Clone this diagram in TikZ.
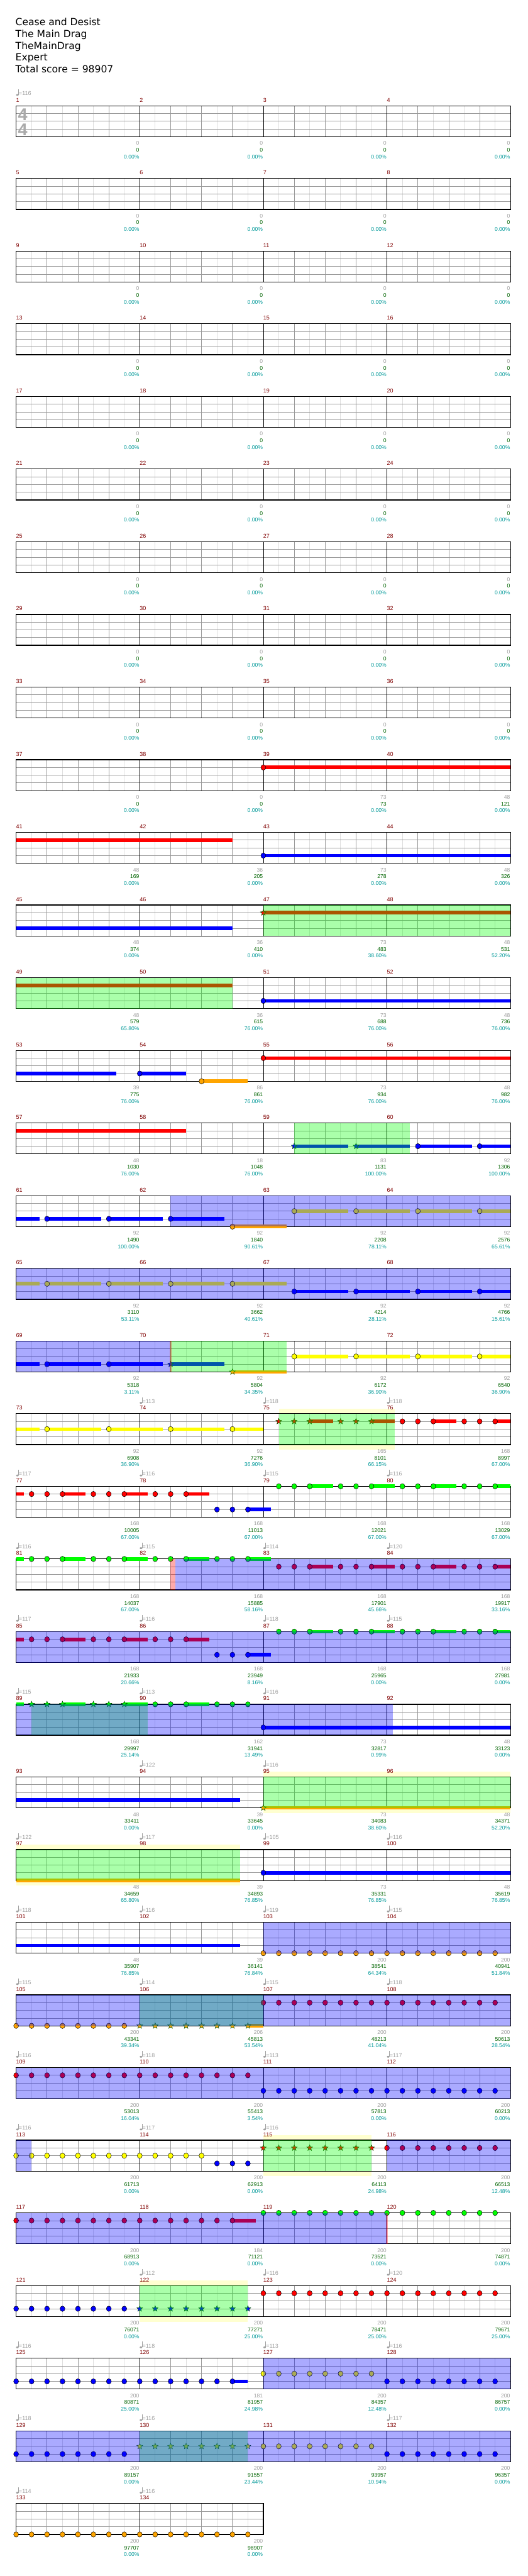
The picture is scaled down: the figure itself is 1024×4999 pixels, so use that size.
\documentclass[tikz,border=0pt]{standalone}
\usepackage{fontspec}
\setmainfont{DejaVu Sans}
\newfontfamily\labfont{Liberation Sans}
\usetikzlibrary{shapes.geometric}
\definecolor{lane0}{RGB}{0,255,0}
\definecolor{lane1}{RGB}{255,0,0}
\definecolor{lane2}{RGB}{255,255,0}
\definecolor{lane3}{RGB}{0,0,255}
\definecolor{lane4}{RGB}{255,165,0}
\definecolor{mnum}{RGB}{128,0,0}
\definecolor{lgray}{RGB}{160,160,160}
\definecolor{lgreen}{RGB}{0,100,0}
\definecolor{lteal}{RGB}{0,153,153}
\definecolor{gridlight}{RGB}{222,222,222}
\definecolor{gridmid}{RGB}{153,153,153}
\definecolor{paleyel}{RGB}{255,255,208}
\definecolor{stargreen}{RGB}{0,80,0}
\definecolor{tsgray}{RGB}{170,170,170}
\tikzset{
  lab/.style={font=\labfont\fontsize{10.5}{12}\selectfont, inner sep=0pt, outer sep=0pt},
  mlab/.style={font=\labfont\fontsize{11}{13}\selectfont, text=mnum, inner sep=0pt, outer sep=0pt},
  tlab/.style={font=\labfont\fontsize{11}{13}\selectfont, text=lgray, inner sep=0pt, outer sep=0pt},
  starnote/.style={star, star points=5, star point ratio=2.3, minimum size=12pt, inner sep=0pt, draw=stargreen, line width=0.6pt},
  head/.style={font=\fontsize{19}{23}\selectfont, anchor=base west, inner sep=0pt}
}
\newcommand\rowT[1]{\pgfmathsetmacro\rT{205.3+141*(#1)}}
\newcommand\Staff[3]{\rowT{#1}\pgfmathsetmacro\rR{31.3+240*(#2)}\pgfmathtruncatemacro\myN{8*(#2)-1}%
  \fill[white] (31.3,\rT) rectangle (\rR,{\rT+60});
  \foreach \kk in {1,...,\myN}{\draw[gridlight,line width=1pt] ({31.3+30*\kk},\rT) -- ({31.3+30*\kk},{\rT+60});}
  \foreach \kk in {2,4,...,\myN}{\draw[gridmid,line width=1pt] ({31.3+30*\kk},\rT) -- ({31.3+30*\kk},{\rT+60});}
  \foreach \li in {1,2,3}{\draw[gridmid,line width=1pt] (31.3,{\rT+15*\li}) -- (\rR,{\rT+15*\li});}
  \foreach \kk in {#3}{\draw[black,line width=1pt] ({31.3+30*\kk},\rT) -- ({31.3+30*\kk},{\rT+60});}
  \draw[black,line width=1.5pt] (31.3,\rT) rectangle (\rR,{\rT+60});}
\newcommand\Nt[3]{\rowT{#1}\filldraw[fill=lane#2,draw=black,line width=0.6pt] ({31.3+30*(#3)},{\rT+15*#2}) ellipse[x radius=4.8pt,y radius=5.2pt];}
\newcommand\Su[4]{\rowT{#1}\fill[lane#2] ({31.3+30*(#3)},{\rT+15*#2-3.5}) rectangle ({31.3+30*(#4)},{\rT+15*#2+3.5});}
\newcommand\St[3]{\rowT{#1}\node[starnote,fill=lane#2] at ({31.3+30*(#3)},{\rT+15*#2}) {};}
\newcommand\Ns[3]{\foreach \ee in {#3}{\Nt{#1}{#2}{\ee}}}
\newcommand\Ss[3]{\foreach \ee in {#3}{\St{#1}{#2}{\ee}}}
\newcommand\Nsus[4]{\foreach \ee in {#3}{\Su{#1}{#2}{\ee}{\ee+#4}\Nt{#1}{#2}{\ee}}}
\newcommand\Ov[4]{\rowT{#2}\fill[#1,fill opacity=0.3333] ({31.3+30*(#3)},\rT) rectangle ({31.3+30*(#4)},{\rT+60});}
\newcommand\Grn[3]{\Ov{lane0}{#1}{#2}{#3}}
\newcommand\Blu[3]{\Ov{lane3}{#1}{#2}{#3}}
\newcommand\Rd[3]{\Ov{lane1}{#1}{#2}{#3}}
\newcommand\Yel[3]{\rowT{#1}\fill[paleyel] ({31.3+30*(#2)},{\rT-10}) rectangle ({31.3+30*(#3)},{\rT+70});}
\newcommand\Labs[2]{\rowT{#1}\foreach \ga/\gb/\gc [count=\cc from 1] in {#2}{%
  \node[lab,text=lgray,anchor=base east] at ({31.3+240*\cc-1},{\rT+76.4}) {\ga};
  \node[lab,text=lgreen,anchor=base east] at ({31.3+240*\cc-1},{\rT+89.4}) {\gb};
  \node[lab,text=lteal,anchor=base east] at ({31.3+240*\cc-1},{\rT+102.4}) {\gc\%};}}
\newcommand\Tmp[3]{\rowT{#1}\pgfmathsetmacro\xx{31.3+240*(#2)}%
  \fill[lgray] ({\xx+2.4},{\rT-21}) ellipse[x radius=2.5pt,y radius=1.8pt];
  \draw[lgray,line width=0.8pt] ({\xx+4.5},{\rT-21}) -- ({\xx+4.5},{\rT-32});
  \node[tlab,anchor=base west] at ({\xx+5.3},{\rT-20}) {=#3};}
\newcommand\Pat[1]{%
  \Su{#1}{1}{0}{0.5}\Su{#1}{1}{3}{4.5}\Su{#1}{1}{7}{8.5}\Su{#1}{1}{11}{12.5}\Ns{#1}{1}{1,2,3,5,6,7,9,10,11}
  \Su{#1}{3}{15}{16.5}\Ns{#1}{3}{13,14,15}
  \Su{#1}{0}{19}{20.5}\Su{#1}{0}{23}{24.5}\Su{#1}{0}{27}{28.5}\Su{#1}{0}{31}{32}\Ns{#1}{0}{17,18,19,21,22,23,25,26,27,29,30,31}}
\begin{document}
\begin{tikzpicture}[x=1pt,y=-1pt]
\useasboundingbox (0,0) rectangle (1024,4999);
\fill[white] (0,0) rectangle (1024,4999);
% header
\node[head] at (30,49.3) {Cease and Desist};
\node[head] at (30,72.3) {The Main Drag};
\node[head] at (30,95.3) {TheMainDrag};
\node[head] at (30,118.3) {Expert};
\node[head] at (30,141.3) {Total score = 98907};
% pale yellow regions
\Yel{18}{17}{24.5}\Yel{23}{16}{32}\Yel{24}{0}{14.5}\Yel{28}{16}{23}\Yel{30}{8}{15}
% staffs
\foreach \rr in {0,...,32}{\Staff{\rr}{4}{8,16,24}}
\Staff{33}{2}{8}
% time signature
\node[font=\labfont\bfseries\fontsize{33}{33}\selectfont,text=tsgray,anchor=base,inner sep=0pt] at (44,233.3) {4};
\node[font=\labfont\bfseries\fontsize{33}{33}\selectfont,text=tsgray,anchor=base,inner sep=0pt] at (44,262.8) {4};
% notes
\Su{9}{1}{16}{32}\Nt{9}{1}{16}
\Su{10}{1}{0}{14}\Su{10}{3}{16}{32}\Nt{10}{3}{16}
\Su{11}{3}{0}{14}\Su{11}{1}{16}{32}\St{11}{1}{16}
\Su{12}{1}{0}{14}\Su{12}{3}{16}{32}\Nt{12}{3}{16}
\Su{13}{3}{0}{6.5}\Su{13}{3}{8}{11}\Nt{13}{3}{8}\Su{13}{4}{12}{15}\Nt{13}{4}{12}\Su{13}{1}{16}{32}\Nt{13}{1}{16}
\Su{14}{1}{0}{11}\Su{14}{3}{18}{21.5}\Su{14}{3}{22}{25.5}\Su{14}{3}{26}{29.5}\Su{14}{3}{30}{32}\St{14}{3}{18}\St{14}{3}{22}\Nt{14}{3}{26}\Nt{14}{3}{30}
\Su{15}{3}{0}{1.5}\Nsus{15}{3}{2,6,10}{3.5}\Su{15}{4}{14}{17.5}\Nt{15}{4}{14}\Nsus{15}{2}{18,22,26}{3.5}\Su{15}{2}{30}{32}\Nt{15}{2}{30}
\Su{16}{2}{0}{1.5}\Nsus{16}{2}{2,6,10,14}{3.5}\Nsus{16}{3}{18,22,26}{3.5}\Su{16}{3}{30}{32}\Nt{16}{3}{30}
\Su{17}{3}{0}{1.5}\Nsus{17}{3}{2,6}{3.5}\Su{17}{3}{10}{13.5}\St{17}{3}{10}\Su{17}{4}{14}{17.5}\St{17}{4}{14}\Nsus{17}{2}{18,22,26}{3.5}\Su{17}{2}{30}{32}\Nt{17}{2}{30}
\Su{18}{2}{0}{1.5}\Nsus{18}{2}{2,6,10}{3.5}\Su{18}{2}{14}{16}\Nt{18}{2}{14}
\Su{18}{1}{19}{20.5}\Su{18}{1}{23}{24.5}\Ss{18}{1}{17,18,19,21,22,23}
\Su{18}{1}{27}{28.5}\Su{18}{1}{31}{32}\Ns{18}{1}{25,26,27,29,30,31}
\Pat{19}
\Su{20}{0}{0}{0.5}\Su{20}{0}{3}{4.5}\Su{20}{0}{7}{8.5}\Su{20}{0}{11}{12.5}\Su{20}{0}{15}{16.5}\Ns{20}{0}{1,2,3,5,6,7,9,10,11,13,14,15}
\Su{20}{1}{19}{20.5}\Su{20}{1}{23}{24.5}\Su{20}{1}{27}{28.5}\Su{20}{1}{31}{32}\Ns{20}{1}{17,18,19,21,22,23,25,26,27,29,30,31}
\Pat{21}
\Su{22}{0}{0}{0.5}\Su{22}{0}{3}{4.5}\Su{22}{0}{7}{8.5}\Su{22}{0}{11}{12.5}\Ss{22}{0}{1,2,3,5,6,7}\Ns{22}{0}{9,10,11,13,14,15}\Su{22}{3}{16}{32}\Nt{22}{3}{16}
\Su{23}{3}{0}{14.5}\Su{23}{4}{16}{32}\St{23}{4}{16}
\Su{24}{4}{0}{14.5}\Su{24}{3}{16}{32}\Nt{24}{3}{16}
\Su{25}{3}{0}{14.5}\Ns{25}{4}{16,...,31}
\Ns{26}{4}{0,...,7}\Su{26}{4}{15}{16}\Ss{26}{4}{8,...,15}\Ns{26}{1}{16,...,31}
\Ns{27}{1}{0,...,15}\Ns{27}{3}{16,...,31}
\Ns{28}{2}{0,...,12}\Ns{28}{3}{13,14,15}\Ss{28}{1}{16,...,23}\Ns{28}{1}{24,...,31}
\Su{29}{1}{14}{15.5}\Ns{29}{1}{0,...,14}\Ns{29}{0}{16,...,31}
\Ns{30}{3}{0,...,7}\Ss{30}{3}{8,...,15}\Ns{30}{1}{16,...,31}
\Su{31}{3}{14}{15}\Ns{31}{3}{0,...,14}\Ns{31}{2}{16,...,23}\Ns{31}{3}{24,...,31}
\Ns{32}{3}{0,...,7}\Ss{32}{2}{8,...,15}\Ns{32}{2}{16,...,23}\Ns{32}{3}{24,...,31}
\Ns{33}{4}{0,...,15}
% overlays: star power phrases (green), activations (blue), markers (red)
\Grn{11}{16}{32}\Grn{12}{0}{14}\Grn{14}{18}{25.5}\Grn{17}{10}{17.5}\Grn{18}{17}{24.5}\Grn{22}{1}{8.5}
\Grn{23}{16}{32}\Grn{24}{0}{14.5}\Grn{26}{8}{16}\Grn{28}{16}{23}\Grn{30}{8}{15}\Grn{32}{8}{15}
\Blu{15}{10}{32}\Blu{16}{0}{32}\Blu{17}{0}{10}\Blu{20}{10.3}{32}\Blu{21}{0}{32}\Blu{22}{0}{24.4}
\Blu{25}{16}{32}\Blu{26}{0}{32}\Blu{27}{0}{32}\Blu{28}{0}{1}\Blu{28}{24}{32}\Blu{29}{0}{24}\Blu{31}{16}{32}\Blu{32}{0}{32}
\Rd{17}{9.95}{10.05}\Rd{20}{10}{10.3}\Rd{29}{23.95}{24.05}
% measure numbers
\foreach \mm in {1,...,134}{\pgfmathtruncatemacro\ra{(\mm-1)/4}\pgfmathtruncatemacro\ca{mod(\mm-1,4)}\rowT{\ra}%
  \node[mlab,anchor=base west] at ({31.3+240*\ca},{\rT-7.3}) {\mm};}
% tempo marks
\foreach \ta/\tb/\tc in {0/0/116,18/1/113,18/2/118,18/3/118,19/0/117,19/1/116,19/2/115,19/3/116,
  20/0/116,20/1/115,20/2/114,20/3/120,21/0/117,21/1/116,21/2/118,21/3/115,22/0/115,22/1/113,22/2/116,
  23/1/122,23/2/116,24/0/122,24/1/117,24/2/105,24/3/116,25/0/118,25/1/116,25/2/119,25/3/115,
  26/0/115,26/1/114,26/2/115,26/3/118,27/0/116,27/1/118,27/2/113,27/3/117,28/0/116,28/1/117,28/2/116,
  30/1/112,30/2/116,30/3/120,31/0/116,31/1/118,31/2/113,31/3/116,32/0/118,32/1/116,32/3/117,33/0/114,33/1/116}{\Tmp{\ta}{\tb}{\tc}}
% labels
\foreach \rr in {0,...,8}{\Labs{\rr}{0/0/0.00,0/0/0.00,0/0/0.00,0/0/0.00}}
\Labs{9}{0/0/0.00,0/0/0.00,73/73/0.00,48/121/0.00}
\Labs{10}{48/169/0.00,36/205/0.00,73/278/0.00,48/326/0.00}
\Labs{11}{48/374/0.00,36/410/0.00,73/483/38.60,48/531/52.20}
\Labs{12}{48/579/65.80,36/615/76.00,73/688/76.00,48/736/76.00}
\Labs{13}{39/775/76.00,86/861/76.00,73/934/76.00,48/982/76.00}
\Labs{14}{48/1030/76.00,18/1048/76.00,83/1131/100.00,92/1306/100.00}
\Labs{15}{92/1490/100.00,92/1840/90.61,92/2208/78.11,92/2576/65.61}
\Labs{16}{92/3110/53.11,92/3662/40.61,92/4214/28.11,92/4766/15.61}
\Labs{17}{92/5318/3.11,92/5804/34.35,92/6172/36.90,92/6540/36.90}
\Labs{18}{92/6908/36.90,92/7276/36.90,165/8101/66.15,168/8997/67.00}
\Labs{19}{168/10005/67.00,168/11013/67.00,168/12021/67.00,168/13029/67.00}
\Labs{20}{168/14037/67.00,168/15885/58.16,168/17901/45.66,168/19917/33.16}
\Labs{21}{168/21933/20.66,168/23949/8.16,168/25965/0.00,168/27981/0.00}
\Labs{22}{168/29997/25.14,162/31941/13.49,73/32817/0.99,48/33123/0.00}
\Labs{23}{48/33411/0.00,39/33645/0.00,73/34083/38.60,48/34371/52.20}
\Labs{24}{48/34659/65.80,39/34893/76.85,73/35331/76.85,48/35619/76.85}
\Labs{25}{48/35907/76.85,39/36141/76.84,200/38541/64.34,200/40941/51.84}
\Labs{26}{200/43341/39.34,206/45813/53.54,200/48213/41.04,200/50613/28.54}
\Labs{27}{200/53013/16.04,200/55413/3.54,200/57813/0.00,200/60213/0.00}
\Labs{28}{200/61713/0.00,200/62913/0.00,200/64113/24.98,200/66513/12.48}
\Labs{29}{200/68913/0.00,184/71121/0.00,200/73521/0.00,200/74871/0.00}
\Labs{30}{200/76071/0.00,200/77271/25.00,200/78471/25.00,200/79671/25.00}
\Labs{31}{200/80871/25.00,181/81957/24.98,200/84357/12.48,200/86757/0.00}
\Labs{32}{200/89157/0.00,200/91557/23.44,200/93957/10.94,200/96357/0.00}
\Labs{33}{200/97707/0.00,200/98907/0.00}
\end{tikzpicture}
\end{document}
